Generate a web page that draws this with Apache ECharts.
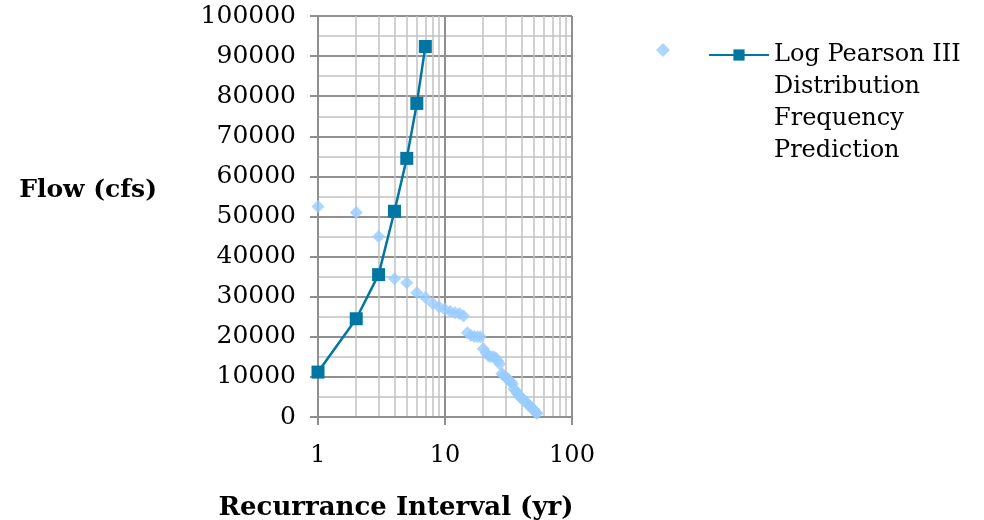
<!DOCTYPE html>
<html><head><meta charset="utf-8">
<script src="https://cdn.jsdelivr.net/npm/echarts@6/dist/echarts.min.js"></script>
<style>html,body{margin:0;padding:0;background:#fff}#c{width:984px;height:520px}</style>
</head><body><div id="c"></div>
<script>
// Observed annual peaks (plotted vs. rank-based recurrence interval)
const observedX = [1,2,3,4,5,6,7,8,9,10,11,12,13,14,15,16,17,18,19,20,21,22,23,24,25,26,27,28,29,30,31,32,33,34,35,36,37,38,39,40,41,42,43,44,45,46,47,48,49,50,51,52,53];
const observedFlow = [52500,51000,45000,34500,33500,31000,29800,28300,27500,26800,26300,26000,25800,25200,21000,20300,20100,20000,20000,17000,16000,15200,15000,15000,14800,14000,13200,10800,10500,10000,9500,9200,8700,8200,7000,6500,6000,5500,5000,4700,4400,4100,3800,3500,3200,2900,2600,2300,2000,1800,1500,1200,900];
// Log Pearson III prediction
const lp3X = [1,2,3,4,5,6,7];
const lp3Flow = [11200,24500,35500,51300,64500,78200,92400];
const lp3Name = 'Log Pearson III\nDistribution\nFrequency\nPrediction';
const observedName = ' ';
const xTitle = 'Recurrance Interval (yr)';
const yTitle = 'Flow (cfs)';

const FONT = 'DejaVu Serif';
const zip = (a, b) => a.map((v, i) => [v, b[i]]);

const chart = echarts.init(document.getElementById('c'), null, {renderer: 'canvas'});
chart.setOption({
  animation: false,
  backgroundColor: '#fff',
  grid: {left: 318, right: 412, top: 16, bottom: 103, containLabel: false, outerBoundsMode: 'none'},
  legend: [
    {data: [observedName], left: 651, top: 33, icon: 'diamond', itemWidth: 14, itemHeight: 14,
     textStyle: {fontFamily: FONT, fontSize: 24}},
    {data: [lp3Name], left: 703, top: -62, itemWidth: 60, itemHeight: 14, itemGap: 0,
     formatter: function (n) { return '\n\n\n' + n; },
     textStyle: {fontFamily: FONT, fontSize: 24, lineHeight: 32, color: '#000'}}
  ],
  xAxis: {
    type: 'log', logBase: 10, min: 1, max: 100,
    name: xTitle, nameLocation: 'middle', nameGap: 78,
    nameTextStyle: {fontFamily: FONT, fontSize: 26, fontWeight: 'bold', color: '#000', padding: [0, 98, 0, 0]},
    axisLine: {show: true, lineStyle: {color: '#8f8f8f', width: 2}},
    axisTick: {show: true, length: 8, lineStyle: {color: '#8f8f8f', width: 2}},
    minorTick: {show: false, splitNumber: 9},
    axisLabel: {fontFamily: FONT, fontSize: 24, color: '#000', margin: 27},
    splitLine: {show: true, lineStyle: {color: '#8f8f8f', width: 2}},
    minorSplitLine: {show: true, lineStyle: {color: '#c2c2c2', width: 1.5}}
  },
  yAxis: {
    type: 'value', min: 0, max: 100000, interval: 10000,
    name: yTitle, nameLocation: 'middle', nameRotate: 0, nameGap: 161,
    nameTextStyle: {fontFamily: FONT, fontSize: 25, fontWeight: 'bold', color: '#000',
                    verticalAlign: 'bottom', lineHeight: 53},
    axisLine: {show: true, lineStyle: {color: '#8f8f8f', width: 2}},
    axisTick: {show: true, length: 8, lineStyle: {color: '#8f8f8f', width: 2}},
    minorTick: {show: false, splitNumber: 2},
    axisLabel: {fontFamily: FONT, fontSize: 25, color: '#000', margin: 22,
                formatter: function (v) { return String(v); }},
    splitLine: {show: true, lineStyle: {color: '#8f8f8f', width: 2}},
    minorSplitLine: {show: true, lineStyle: {color: '#c2c2c2', width: 1.5}}
  },
  series: [
    {name: observedName, type: 'scatter', data: zip(observedX, observedFlow),
     symbol: 'diamond', symbolSize: 13, itemStyle: {color: '#99ccff'}, z: 2},
    {name: lp3Name, type: 'line', data: zip(lp3X, lp3Flow),
     symbol: 'rect', symbolSize: 13, showAllSymbol: true,
     lineStyle: {color: '#0077a3', width: 2.5}, itemStyle: {color: '#0077a3'}, z: 3}
  ]
});
</script></body></html>
